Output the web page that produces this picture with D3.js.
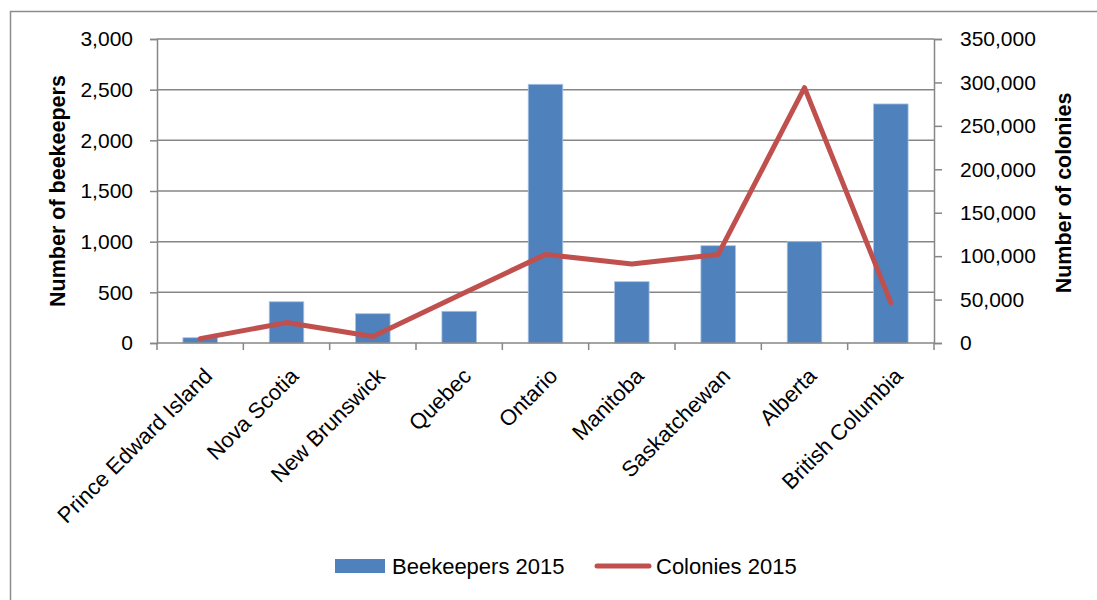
<!DOCTYPE html>
<html>
<head>
<meta charset="utf-8">
<script src="https://cdn.jsdelivr.net/npm/d3@7"></script>
<style>
  html, body { margin: 0; padding: 0; background: #fff; }
  svg { display: block; font-family: "Liberation Sans", Arial, sans-serif; }
</style>
</head>
<body>
<svg id="chart" width="1097" height="600"></svg>
<script>
const categories = ["Prince Edward Island", "Nova Scotia", "New Brunswick", "Quebec", "Ontario", "Manitoba", "Saskatchewan", "Alberta", "British Columbia"];
const beekeepers2015 = [52, 407, 289, 313, 2553, 605, 960, 1000, 2359];
const colonies2015 = [5000, 23500, 7500, 55000, 102000, 91000, 102000, 294000, 46500];
const leftTicks = [0, 500, 1000, 1500, 2000, 2500, 3000];
const rightTicks = [0, 50000, 100000, 150000, 200000, 250000, 300000, 350000];
const seriesNames = ["Beekeepers 2015", "Colonies 2015"];
const axisTitles = ["Number of beekeepers", "Number of colonies"];

const svg = d3.select("#chart");
const L = 157, R = 934, T = 39, B = 343;
const grey = "#868686";
const fmt = d3.format(",");

// outer frame
svg.append("rect").attr("x", 10.5).attr("y", 11.5).attr("width", 1200).attr("height", 700)
  .attr("fill", "none").attr("stroke", "#8c8c8c").attr("stroke-width", 1.5);

const x = d3.scaleBand().domain(categories).range([L, R]).paddingInner(0).paddingOuter(0);
const yL = d3.scaleLinear().domain([0, 3000]).range([B, T]);
const yR = d3.scaleLinear().domain([0, 350000]).range([B, T]);

// gridlines
svg.append("g").selectAll("line").data(leftTicks.filter(d => d > 0)).join("line")
  .attr("x1", L).attr("x2", R).attr("y1", d => yL(d)).attr("y2", d => yL(d))
  .attr("stroke", grey).attr("stroke-width", 1.5);

// bars
const bw = x.bandwidth() / 2.5;
svg.append("g").selectAll("rect").data(beekeepers2015).join("rect")
  .attr("x", (d, i) => x(categories[i]) + x.bandwidth() / 2 - bw / 2)
  .attr("width", bw)
  .attr("y", d => yL(d))
  .attr("height", d => B - yL(d))
  .attr("fill", "#4F81BD")
  .attr("stroke", "#a9c2e2").attr("stroke-width", 0.8);

// left axis
const gL = svg.append("g").attr("transform", `translate(${L},0)`)
  .call(d3.axisLeft(yL).tickValues(leftTicks).tickFormat(fmt).tickSize(7).tickPadding(17));
// right axis
const gR = svg.append("g").attr("transform", `translate(${R},0)`)
  .call(d3.axisRight(yR).tickValues(rightTicks).tickFormat(fmt).tickSize(8).tickPadding(18));
// bottom axis
const gB = svg.append("g").attr("transform", `translate(0,${B})`)
  .call(d3.axisBottom(x).tickSize(0).tickFormat(""));

[gL, gR, gB].forEach(g => {
  g.select(".domain").attr("stroke", grey).attr("stroke-width", 1.5);
  g.selectAll(".tick line").attr("stroke", grey).attr("stroke-width", 1.5);
  g.selectAll("text").attr("font-size", 21).attr("fill", "#000")
    .attr("font-family", "Liberation Sans, Arial, sans-serif");
});
gB.select(".domain").attr("d", `M${L},0H${R}`);

// category boundary ticks
const edges = categories.map(c => x(c)).concat([R]);
svg.append("g").selectAll("line").data(edges).join("line")
  .attr("x1", d => d).attr("x2", d => d).attr("y1", B).attr("y2", B + 7)
  .attr("stroke", grey).attr("stroke-width", 1.5);

// rotated category labels
svg.append("g").selectAll("text").data(categories).join("text")
  .attr("transform", d => `translate(${x(d) + x.bandwidth() / 2 + 8},372) rotate(-45)`)
  .attr("text-anchor", "end").attr("dy", "0.35em")
  .attr("font-size", 22).attr("fill", "#000")
  .text(d => d);

// line series
const line = d3.line().x((d, i) => x(categories[i]) + x.bandwidth() / 2).y(d => yR(d));
svg.append("path").datum(colonies2015).attr("d", line)
  .attr("fill", "none").attr("stroke", "#C0504D").attr("stroke-width", 5)
  .attr("stroke-linejoin", "round").attr("stroke-linecap", "round");

// axis titles
svg.append("text").attr("transform", `translate(57,${(T + B) / 2}) rotate(-90)`)
  .attr("text-anchor", "middle").attr("dy", "0.35em")
  .attr("font-size", 21.5).attr("font-weight", "bold").text(axisTitles[0]);
svg.append("text").attr("transform", `translate(1063,${(T + B) / 2 + 2}) rotate(-90)`)
  .attr("text-anchor", "middle").attr("dy", "0.35em")
  .attr("font-size", 21.5).attr("font-weight", "bold").text(axisTitles[1]);

// legend
const lg = svg.append("g");
lg.append("rect").attr("x", 335).attr("y", 559).attr("width", 50).attr("height", 14).attr("fill", "#4F81BD");
lg.append("text").attr("x", 392).attr("y", 566).attr("dy", "0.35em").attr("font-size", 22).text(seriesNames[0]);
lg.append("line").attr("x1", 597).attr("x2", 649).attr("y1", 566).attr("y2", 566)
  .attr("stroke", "#C0504D").attr("stroke-width", 5).attr("stroke-linecap", "round");
lg.append("text").attr("x", 656).attr("y", 566).attr("dy", "0.35em").attr("font-size", 22).text(seriesNames[1]);
</script>
</body>
</html>
